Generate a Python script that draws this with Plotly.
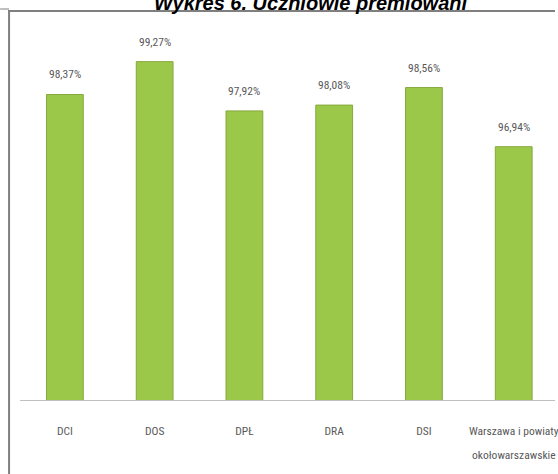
import plotly.graph_objects as go

categories = ["DCI", "DOS", "DPŁ", "DRA", "DSI", "Warszawa i powiaty<br>okołowarszawskie"]
values = [98.37, 99.27, 97.92, 98.08, 98.56, 96.94]
value_labels = ["98,37%", "99,27%", "97,92%", "98,08%", "98,56%", "96,94%"]
title_text = "Wykres 6. Uczniowie premiowani"

W, H = 558, 474
ML, MR, MT, MB = 20, 0, 35, 74
PW, PH = W - ML - MR, H - MT - MB

NARROW = "Liberation Sans Narrow, Arial Narrow, Roboto Condensed, Liberation Sans, Arial, sans-serif"
TXT = "#595959"

xs = list(range(len(categories)))
first_lines = [c.split("<br>")[0] for c in categories]

fig = go.Figure()
fig.add_trace(go.Bar(
    x=xs, y=values, width=0.41,
    marker=dict(color="#9cc84a", line=dict(color="#86a83d", width=1)),
    hoverinfo="skip",
))

lab_font = dict(family=NARROW, size=11.5, color=TXT)

annotations = []
for x, v, t in zip(xs, values, value_labels):
    annotations.append(dict(x=x, y=v, xref="x", yref="y", text=t, showarrow=False,
                            yanchor="middle", yshift=20, font=lab_font))
for x, c in zip(xs, categories):
    for i, line in enumerate(c.split("<br>")[1:], start=1):
        annotations.append(dict(x=x, y=0, xref="x", yref="paper", text=line, showarrow=False,
                                yanchor="middle", yshift=-(32 + 23 * i), font=lab_font))
# title (cut off at top of picture)
annotations.append(dict(x=(313 - ML) / PW, y=1 + (MT - 16) / PH, xref="paper", yref="paper",
                        text="<b><i>" + title_text + "</i></b>", showarrow=False,
                        xanchor="center", yanchor="bottom",
                        font=dict(family="Liberation Sans, Arial, sans-serif", size=20, color="#000000")))

def px_x(p):
    return (p - ML) / PW

def px_y(p):
    return 1 - (p - MT) / PH

shapes = [
    # frame left and top
    dict(type="line", xref="paper", yref="paper", x0=px_x(9), x1=px_x(9), y0=px_y(10), y1=px_y(474),
         line=dict(color="#7f7f7f", width=2)),
    dict(type="line", xref="paper", yref="paper", x0=px_x(8), x1=px_x(558), y0=px_y(11), y1=px_y(11),
         line=dict(color="#7f7f7f", width=2)),
    dict(type="line", xref="paper", yref="paper", x0=px_x(0), x1=px_x(9), y0=px_y(9), y1=px_y(9),
         line=dict(color="#7f7f7f", width=1)),
]

fig.update_layout(
    width=W, height=H,
    margin=dict(l=ML, r=MR, t=MT, b=MB, pad=0),
    paper_bgcolor="white", plot_bgcolor="white",
    showlegend=False,
    bargap=0.6,
    xaxis=dict(range=[-0.5, 5.46], tickmode="array", tickvals=xs, ticktext=first_lines,
               showgrid=False, zeroline=False, showline=True, linecolor="#c0c0c0", linewidth=1,
               ticks="", ticklabelstandoff=20, ticklabeloverflow="allow",
               tickfont=lab_font, fixedrange=True),
    yaxis=dict(range=[90, 100], visible=False, showgrid=False, fixedrange=True),
    annotations=annotations,
    shapes=shapes,
)

fig.write_html("out.html", config={"displayModeBar": False},
               post_script=("document.body.style.margin='0';document.body.style.overflow='hidden';"
                            "document.documentElement.style.overflow='hidden';"))
